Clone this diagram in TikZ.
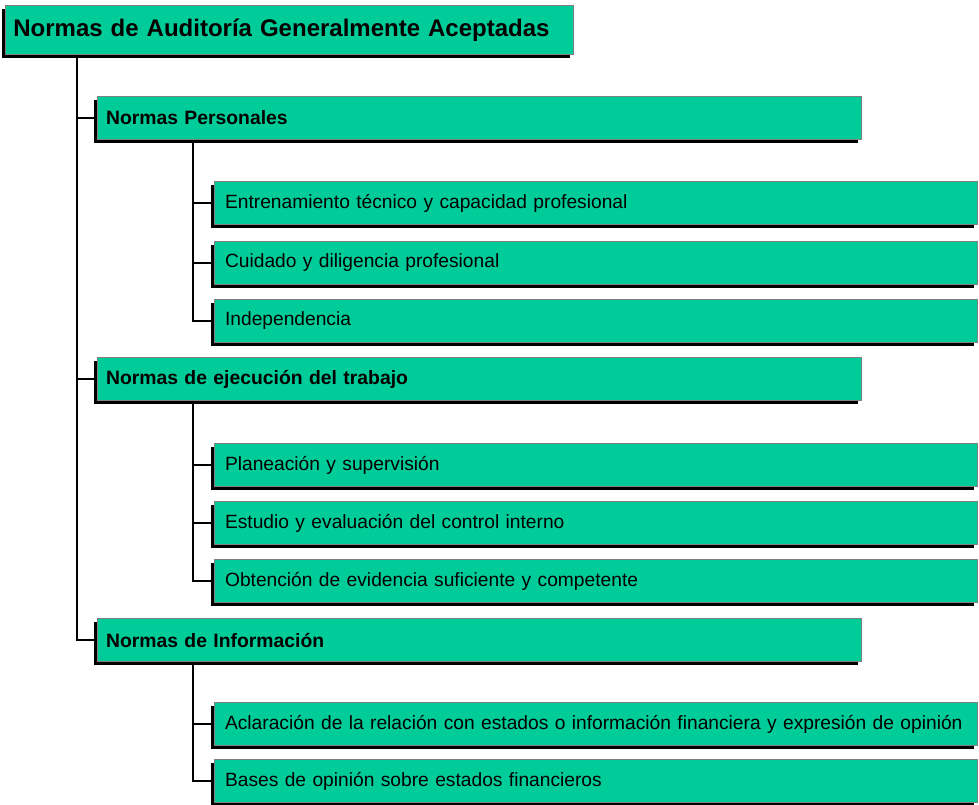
\documentclass[tikz,border=0pt]{standalone}
\usepackage{fontspec}
\setmainfont{Liberation Sans}
\usetikzlibrary{shadows}
\definecolor{normgreen}{RGB}{0, 204, 153}
\definecolor{edgegray}{RGB}{128, 128, 128}

\begin{document}
\begin{tikzpicture}[
  x=0.75pt, y=-0.75pt,
  box/.style={rectangle, draw=edgegray, line width=0.6pt, fill=normgreen,
              anchor=west, align=left,
              general shadow={fill=black, shadow xshift=-2.4pt, shadow yshift=-2.4pt}},
  titlebox/.style={box, font=\bfseries\fontsize{18}{21}\selectfont,
              text width=414pt, inner xsep=6pt, minimum height=37pt},
  normbox/.style={box, font=\bfseries\fontsize{14.5}{17}\selectfont,
              text width=560pt, inner xsep=6.5pt, minimum height=32pt},
  itembox/.style={box, font=\fontsize{14.4}{17}\selectfont,
              text width=556pt, inner xsep=8pt, minimum height=32pt},
  tree/.style={line width=2.2pt, black}
]
  \useasboundingbox (0,0) rectangle (979,804);

  %% Root
  \node[titlebox] (root) at (5,30) {Normas de Auditoría Generalmente Aceptadas};

  %% First level
  \node[normbox] (pers) at (97,118) {Normas Personales};
  \node[normbox] (ejec) at (97,379) {Normas de ejecución del trabajo};
  \node[normbox] (info) at (97,640) {Normas de Información};

  %% Second level
  \node[itembox] (ent) at (214,203) {Entrenamiento técnico y capacidad profesional};
  \node[itembox] (cui) at (214,263) {Cuidado y diligencia profesional};
  \node[itembox] (ind) at (214,321) {Independencia};

  \node[itembox] (pla) at (214,465) {Planeación y supervisión};
  \node[itembox] (est) at (214,523) {Estudio y evaluación del control interno};
  \node[itembox] (obt) at (214,581) {Obtención de evidencia suficiente y competente};

  \node[itembox] (acl) at (214,724)
    {Aclaración de la relación con estados o información financiera y expresión de opinión};
  \node[itembox] (bas) at (214,781) {Bases de opinión sobre estados financieros};

  %% Tree lines
  \coordinate (r0) at (root.south west -| 77,0);
  \coordinate (p0) at (pers.south west -| 193,0);
  \coordinate (e0) at (ejec.south west -| 193,0);
  \coordinate (i0) at (info.south west -| 193,0);

  \draw[tree] (r0) |- (pers.west) (r0) |- (ejec.west) (r0) |- (info.west);
  \draw[tree] (p0) |- (ent.west) (p0) |- (cui.west) (p0) |- (ind.west);
  \draw[tree] (e0) |- (pla.west) (e0) |- (est.west) (e0) |- (obt.west);
  \draw[tree] (i0) |- (acl.west) (i0) |- (bas.west);
\end{tikzpicture}
\end{document}
